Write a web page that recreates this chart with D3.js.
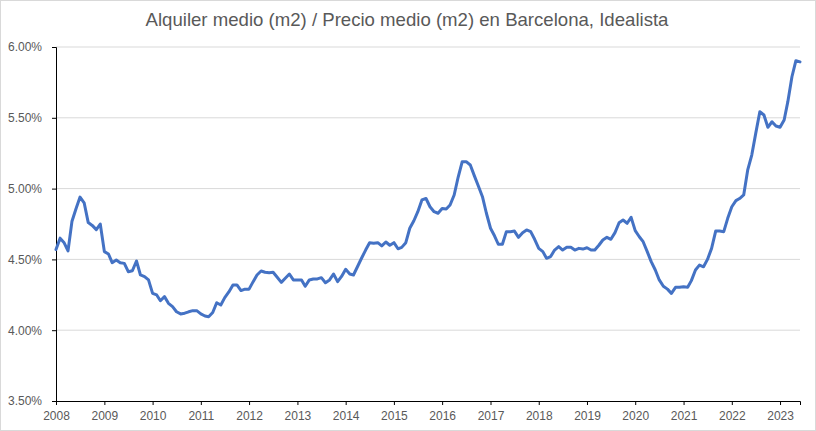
<!DOCTYPE html>
<html>
<head>
<meta charset="utf-8">
<script src="https://cdn.jsdelivr.net/npm/d3@7"></script>
<style>
  body { margin: 0; background: #fff; }
  svg { display: block; font-family: "Liberation Sans", Arial, sans-serif; }
</style>
</head>
<body>
<div id="chart"></div>
<script>
// monthly ratio, Jan 2008 .. Jun 2023 (percent)
const y2008 = [4.57, 4.65, 4.62, 4.56, 4.77, 4.86, 4.94, 4.90, 4.76, 4.74, 4.71, 4.75];
const y2009 = [4.555, 4.538, 4.477, 4.496, 4.477, 4.472, 4.413, 4.42, 4.489, 4.39, 4.378, 4.355];
const y2010 = [4.26, 4.249, 4.208, 4.237, 4.19, 4.166, 4.13, 4.115, 4.12, 4.13, 4.138, 4.138];
const y2011 = [4.115, 4.10, 4.095, 4.125, 4.194, 4.178, 4.23, 4.27, 4.32, 4.32, 4.28, 4.29];
const y2012 = [4.29, 4.343, 4.39, 4.418, 4.409, 4.406, 4.409, 4.374, 4.338, 4.367, 4.397, 4.355];
const y2013 = [4.355, 4.355, 4.31, 4.355, 4.362, 4.362, 4.371, 4.335, 4.355, 4.397, 4.343, 4.38];
const y2014 = [4.43, 4.397, 4.39, 4.45, 4.508, 4.566, 4.618, 4.614, 4.618, 4.595, 4.623, 4.60];
const y2015 = [4.618, 4.575, 4.585, 4.618, 4.72, 4.773, 4.837, 4.92, 4.93, 4.872, 4.837, 4.826];
const y2016 = [4.86, 4.856, 4.884, 4.955, 5.08, 5.19, 5.19, 5.167, 5.09, 5.018, 4.943, 4.826];
const y2017 = [4.72, 4.665, 4.607, 4.607, 4.696, 4.696, 4.70, 4.656, 4.689, 4.708, 4.696, 4.642];
const y2018 = [4.578, 4.555, 4.508, 4.52, 4.566, 4.59, 4.566, 4.585, 4.585, 4.566, 4.578, 4.573];
const y2019 = [4.582, 4.566, 4.566, 4.60, 4.637, 4.656, 4.642, 4.689, 4.759, 4.778, 4.755, 4.797];
const y2020 = [4.703, 4.66, 4.625, 4.555, 4.484, 4.425, 4.355, 4.31, 4.29, 4.26, 4.303, 4.303];
const y2021 = [4.307, 4.303, 4.35, 4.425, 4.46, 4.448, 4.50, 4.578, 4.70, 4.70, 4.696, 4.79];
const y2022 = [4.872, 4.915, 4.93, 4.955, 5.13, 5.237, 5.39, 5.543, 5.52, 5.433, 5.472, 5.442];
const y2023 = [5.433, 5.485, 5.614, 5.79, 5.903, 5.895];

const yTicks = [0.035, 0.04, 0.045, 0.05, 0.055, 0.06];
const title = "Alquiler medio (m2) / Precio medio (m2) en Barcelona, Idealista";

const values = [].concat(y2008, y2009, y2010, y2011, y2012, y2013, y2014, y2015,
  y2016, y2017, y2018, y2019, y2020, y2021, y2022, y2023);
const data = values.map((v, i) => ({ date: new Date(2008, i, 1), value: v / 100 }));

const W = 816, H = 431;
const margin = {top: 47, right: 16, bottom: 30, left: 56},
    width = W - margin.left - margin.right,
    height = H - margin.top - margin.bottom;

const root = d3.select("#chart").append("svg")
    .attr("width", W)
    .attr("height", H);

root.append("rect")
    .attr("x", 0.5).attr("y", 0.5)
    .attr("width", W - 1).attr("height", H - 1)
    .attr("fill", "#fff")
    .attr("stroke", "#d9d9d9");

root.append("text")
    .attr("x", W / 2 - 1)
    .attr("y", 26)
    .attr("text-anchor", "middle")
    .attr("font-size", 18.6)
    .attr("fill", "#595959")
    .text(title);

const svg = root.append("g")
    .attr("transform", `translate(${margin.left}, ${margin.top})`);

const x = d3.scaleTime()
    .domain(d3.extent(data, d => d.date))
    .range([0, width]);

const y = d3.scaleLinear()
    .domain([yTicks[0], yTicks[yTicks.length - 1]])
    .range([height, 0]);

// gridlines
svg.append("g")
    .selectAll("line")
    .data(yTicks.slice(1))
    .join("line")
      .attr("x1", 0).attr("x2", width)
      .attr("y1", d => y(d)).attr("y2", d => y(d))
      .attr("stroke", "#d9d9d9")
      .attr("stroke-width", 1);

const yAxis = svg.append("g")
    .call(d3.axisLeft(y).tickValues(yTicks).tickFormat(d3.format(".2%")).tickSize(4).tickPadding(10));
yAxis.selectAll("text").attr("font-size", 12).attr("fill", "#595959").attr("font-family", "Liberation Sans, Arial, sans-serif");
yAxis.select(".domain").attr("stroke", "#000");

const xAxis = svg.append("g")
    .attr("transform", `translate(0, ${height})`)
    .call(d3.axisBottom(x).ticks(d3.timeYear.every(1)).tickFormat(d3.timeFormat("%Y")).tickSize(4).tickPadding(6));
xAxis.selectAll("text").attr("font-size", 12).attr("fill", "#595959").attr("font-family", "Liberation Sans, Arial, sans-serif");
xAxis.select(".domain").attr("stroke", "#000");

svg.append("path")
    .datum(data)
    .attr("fill", "none")
    .attr("stroke", "#4472c4")
    .attr("stroke-width", 3)
    .attr("stroke-linejoin", "round")
    .attr("stroke-linecap", "round")
    .attr("d", d3.line()
      .x(d => x(d.date))
      .y(d => y(d.value)));
</script>
</body>
</html>
